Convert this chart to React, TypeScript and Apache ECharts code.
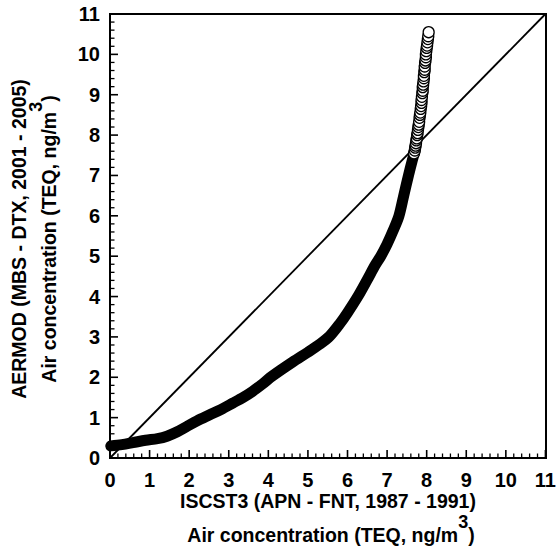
import React, { useEffect, useRef } from "react";
import * as echarts from "echarts";

// 1:1 reference line
const diagonalX = [0, 11];
const diagonalY = [0, 11];

// dense lower part of the quantile curve (points merge into a solid band)
const lowerX = [0.02, 0.3, 0.58, 0.9, 1.2, 1.44, 1.7, 1.94, 2.2, 2.52, 2.8, 3.1, 3.36, 3.6, 3.86, 4.1, 4.62, 5.0, 5.3, 5.55, 5.8, 6.0, 6.26, 6.5, 6.7, 6.84, 7.0, 7.16, 7.3, 7.42, 7.54, 7.63, 7.7];
const lowerY = [0.3, 0.33, 0.38, 0.44, 0.48, 0.54, 0.65, 0.78, 0.92, 1.07, 1.2, 1.36, 1.5, 1.65, 1.84, 2.03, 2.38, 2.62, 2.82, 3.02, 3.32, 3.6, 4.0, 4.42, 4.78, 5.0, 5.3, 5.65, 6.0, 6.5, 7.0, 7.35, 7.6];

// sparse upper part: individual open circles
const upperX = [7.68, 7.7, 7.71, 7.72, 7.73, 7.74, 7.75, 7.76, 7.77, 7.78, 7.79, 7.8, 7.81, 7.82, 7.83, 7.84, 7.85, 7.86, 7.87, 7.87, 7.88, 7.89, 7.9, 7.9, 7.91, 7.92, 7.93, 7.93, 7.94, 7.95, 7.95, 7.96, 7.97, 7.98, 7.98, 7.99, 8.0, 8.01, 8.02, 8.03, 8.04, 8.05];
const upperY = [7.55, 7.62, 7.69, 7.74, 7.8, 7.87, 7.92, 8.0, 8.05, 8.13, 8.2, 8.26, 8.33, 8.43, 8.5, 8.56, 8.65, 8.72, 8.8, 8.87, 8.95, 9.04, 9.1, 9.19, 9.25, 9.33, 9.41, 9.47, 9.56, 9.62, 9.7, 9.79, 9.85, 9.93, 10.0, 10.08, 10.16, 10.22, 10.3, 10.38, 10.45, 10.55];

// tick positions (both axes share them)
const majorTicks = [0, 1, 2, 3, 4, 5, 6, 7, 8, 9, 10, 11];
const minorTicks = [
  0.2, 0.4, 0.6, 0.8, 1.2, 1.4, 1.6, 1.8, 2.2, 2.4, 2.6, 2.8, 3.2, 3.4, 3.6, 3.8,
  4.2, 4.4, 4.6, 4.8, 5.2, 5.4, 5.6, 5.8, 6.2, 6.4, 6.6, 6.8, 7.2, 7.4, 7.6, 7.8,
  8.2, 8.4, 8.6, 8.8, 9.2, 9.4, 9.6, 9.8, 10.2, 10.4, 10.6, 10.8,
];

const FONT = "'Liberation Sans', Arial, Helvetica, sans-serif";
const GRID = { left: 110, top: 14, width: 436, height: 444 };

function measure(text: string, size: number): number {
  const c = document.createElement("canvas").getContext("2d")!;
  c.font = `bold ${size}px ${FONT}`;
  return c.measureText(text).width;
}

function supLine(main: string, sup: string, tail: string, size: number, supSize: number, supRaise: number) {
  const w1 = measure(main, size);
  const w2 = measure(sup, supSize);
  const w3 = measure(tail, size);
  const W = w1 + w2 + w3;
  const x0 = -W / 2;
  const base = { fill: "#000", fontFamily: FONT, fontWeight: "bold", verticalAlign: "middle", align: "left" };
  return [
    { type: "text", x: x0, y: 0, style: { ...base, text: main, fontSize: size } },
    { type: "text", x: x0 + w1, y: -supRaise, style: { ...base, text: sup, fontSize: supSize } },
    { type: "text", x: x0 + w1 + w2, y: 0, style: { ...base, text: tail, fontSize: size } },
  ];
}

// kind: 0 = x major, 1 = x minor, 2 = y major, 3 = y minor
const tickData = [
  ...majorTicks.map((v) => [v, 0]),
  ...minorTicks.map((v) => [v, 1]),
  ...majorTicks.map((v) => [v, 2]),
  ...minorTicks.map((v) => [v, 3]),
];

function renderTick(params: any, api: any) {
  const v = api.value(0);
  const kind = api.value(1);
  const major = kind === 0 || kind === 2;
  const len = major ? 8 : 4.5;
  const lw = major ? 1.6 : 1.3;
  if (kind < 2) {
    const p = api.coord([v, 0]);
    return { type: "line", shape: { x1: p[0], y1: p[1], x2: p[0], y2: p[1] - len }, style: { stroke: "#000", lineWidth: lw } };
  }
  const p = api.coord([0, v]);
  return { type: "line", shape: { x1: p[0], y1: p[1], x2: p[0] + len, y2: p[1] }, style: { stroke: "#000", lineWidth: lw } };
}

export default function App() {
  const ref = useRef<HTMLDivElement>(null);
  useEffect(() => {
    if (!ref.current) return;
    const chart = echarts.init(ref.current, null, { renderer: "svg" });
    const TS = 19.5;
    const makeAxis = (margin: number) => ({
      type: "value",
      min: 0,
      max: 11,
      interval: 1,
      axisLine: { show: true, onZero: false, lineStyle: { color: "#000", width: 2 } },
      axisTick: { show: false },
      minorTick: { show: false },
      splitLine: { show: false },
      minorSplitLine: { show: false },
      axisLabel: { color: "#000", fontSize: 20, fontWeight: "bold", fontFamily: FONT, margin },
    });
    chart.setOption({
      animation: false,
      grid: { ...GRID },
      xAxis: makeAxis(12),
      yAxis: makeAxis(10),
      series: [
        {
          type: "custom",
          coordinateSystem: "cartesian2d",
          renderItem: renderTick,
          data: tickData,
          clip: false,
          silent: true,
          z: 1,
        },
        {
          type: "line",
          data: diagonalX.map((x, i) => [x, diagonalY[i]]),
          showSymbol: false,
          lineStyle: { color: "#000", width: 1.8 },
          z: 2,
        },
        {
          type: "line",
          data: lowerX.map((x, i) => [x, lowerY[i]]),
          showSymbol: false,
          smooth: 0.3,
          clip: false,
          lineStyle: { color: "#000", width: 11, cap: "round", join: "round" },
          z: 3,
        },
        {
          type: "scatter",
          data: upperX.map((x, i) => [x, upperY[i]]),
          symbol: "circle",
          symbolSize: 11,
          itemStyle: { color: "#fff", borderColor: "#000", borderWidth: 1.3, opacity: 1 },
          z: 4,
        },
      ],
      graphic: [
        {
          type: "rect",
          shape: { x: GRID.left, y: GRID.top, width: GRID.width, height: GRID.height },
          style: { fill: "none", stroke: "#000", lineWidth: 2 },
          silent: true,
          z: 10,
        },
        {
          type: "text",
          x: 328,
          y: 501,
          style: { text: "ISCST3 (APN - FNT, 1987 - 1991)", fill: "#000", fontFamily: FONT, fontWeight: "bold", fontSize: TS, align: "center", verticalAlign: "middle" },
        },
        { type: "group", x: 331, y: 535, children: supLine("Air concentration (TEQ, ng/m", "3", ")", TS, 18, 13) },
        {
          type: "text",
          x: 19,
          y: 239,
          rotation: Math.PI / 2,
          style: { text: "AERMOD (MBS - DTX, 2001 - 2005)", fill: "#000", fontFamily: FONT, fontWeight: "bold", fontSize: TS, align: "center", verticalAlign: "middle" },
        },
        { type: "group", x: 49, y: 239, rotation: Math.PI / 2, children: supLine("Air concentration (TEQ, ng/m", "3", ")", TS, 18, 13) },
      ],
    });
    return () => chart.dispose();
  }, []);
  return <div ref={ref} style={{ width: 559, height: 548, position: "absolute", left: 0, top: 0 }} />;
}
